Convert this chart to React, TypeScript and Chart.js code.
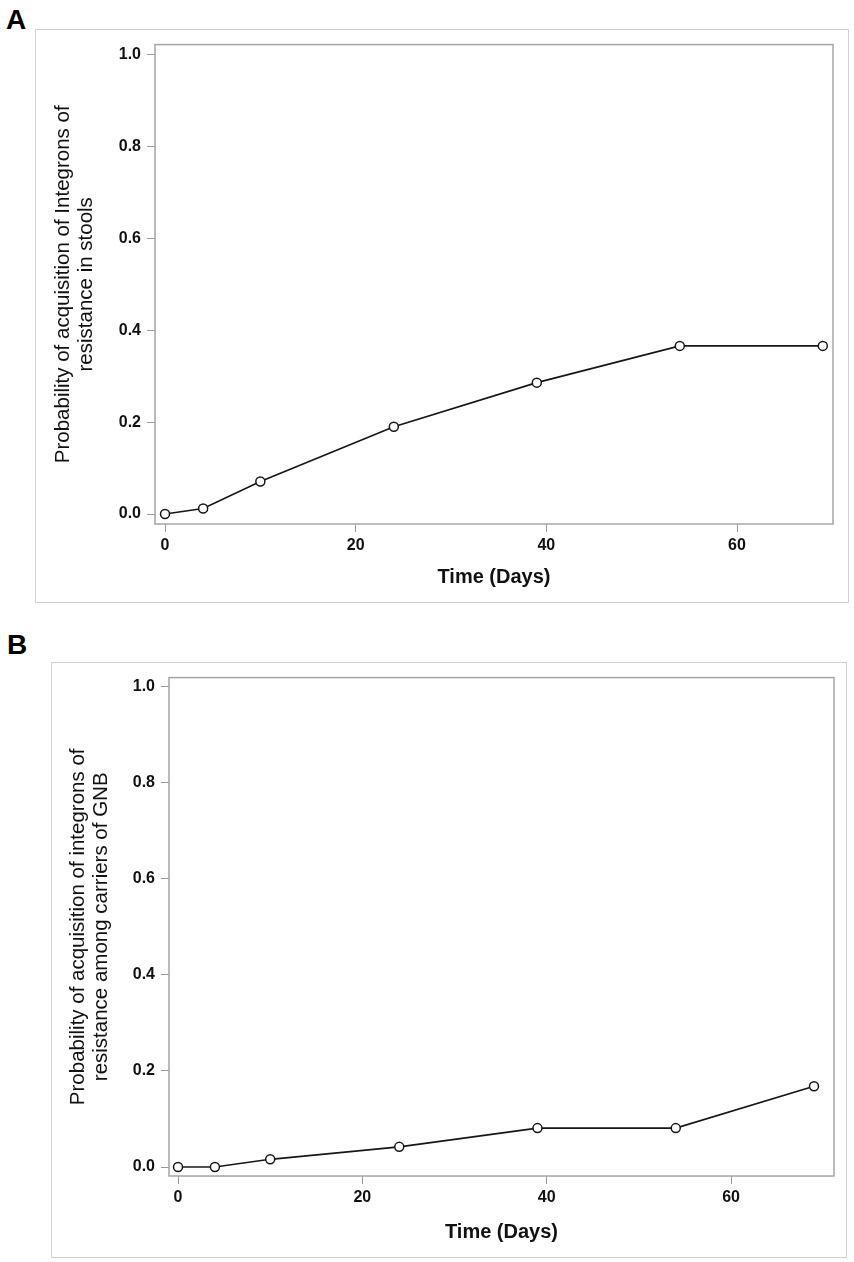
import { useEffect, useRef } from 'react';
import { Chart, registerables } from 'chart.js';

Chart.register(...registerables);

// data
const days = [0, 4, 10, 24, 39, 54, 69];
const probStools = [0, 0.012, 0.071, 0.19, 0.286, 0.366, 0.366];
const probCarriers = [0, 0, 0.016, 0.042, 0.081, 0.081, 0.168];
const xTicks = [0, 20, 40, 60];
const yTicks = [0, 0.2, 0.4, 0.6, 0.8, 1.0];
const yTitleStools = ['Probability of acquisition of Integrons of', 'resistance in stools'];
const yTitleCarriers = ['Probability of acquisition of integrons of', 'resistance among carriers of GNB'];
const xTitle = 'Time (Days)';

const FONT = '"Liberation Sans", Arial, sans-serif';

// plot-area frame
const framePlugin = {
  id: 'frame',
  beforeDatasetsDraw(chart: any) {
    const { ctx, chartArea: a } = chart;
    ctx.save();
    ctx.strokeStyle = '#a4a4a4';
    ctx.lineWidth = 1.5;
    ctx.strokeRect(a.left, a.top, a.right - a.left, a.bottom - a.top);
    ctx.restore();
  },
};

interface PanelProps {
  label: string;
  values: number[];
  yTitle: string[];
  box: { left: number; top: number; width: number; height: number };
  labelPos: { left: number; top: number };
  padTop: number;
  padRight: number;
  yAxisW: number;
  xAxisH: number;
  yTitlePad: number;
  xRange: [number, number];
  yRange: [number, number];
}

function Panel(p: PanelProps) {
  const chartRef = useRef<HTMLCanvasElement>(null);
  const chartInstanceRef = useRef<Chart | null>(null);

  useEffect(() => {
    if (!chartRef.current) return;
    const ctx = chartRef.current.getContext('2d');
    if (!ctx) return;

    if (chartInstanceRef.current) {
      chartInstanceRef.current.destroy();
    }

    chartInstanceRef.current = new Chart(ctx, {
      type: 'line',
      data: {
        datasets: [{
          data: days.map((d, i) => ({ x: d, y: p.values[i] })),
          borderColor: '#161616',
          borderWidth: 1.6,
          pointRadius: 4.5,
          pointBorderWidth: 1.5,
          pointBorderColor: '#161616',
          pointBackgroundColor: '#fff',
          tension: 0,
          fill: false,
        }],
      },
      options: {
        responsive: false,
        animation: false,
        layout: { padding: { left: 0, top: p.padTop, right: p.padRight, bottom: 0 } },
        plugins: {
          legend: { display: false },
          tooltip: { enabled: false },
        },
        scales: {
          x: {
            type: 'linear',
            min: p.xRange[0],
            max: p.xRange[1],
            afterBuildTicks: (s: any) => { s.ticks = xTicks.map(v => ({ value: v })); },
            afterFit: (s: any) => { s.height = p.xAxisH; },
            grid: { drawOnChartArea: false, drawTicks: true, tickLength: 8, tickColor: '#999', lineWidth: 1 },
            border: { display: false },
            ticks: {
              color: '#111',
              padding: 4,
              maxRotation: 0,
              autoSkip: false,
              font: { family: FONT, size: 16, weight: 'bold' },
              callback: (v: any) => String(v),
            },
            title: {
              display: true,
              text: xTitle,
              color: '#111',
              font: { family: FONT, size: 20, weight: 'bold' },
              padding: { top: 0, bottom: 14 },
            },
          },
          y: {
            type: 'linear',
            min: p.yRange[0],
            max: p.yRange[1],
            afterBuildTicks: (s: any) => { s.ticks = yTicks.map(v => ({ value: v })); },
            afterFit: (s: any) => { s.width = p.yAxisW; },
            grid: { drawOnChartArea: false, drawTicks: true, tickLength: 8, tickColor: '#999', lineWidth: 1 },
            border: { display: false },
            ticks: {
              color: '#111',
              padding: 6,
              autoSkip: false,
              font: { family: FONT, size: 16, weight: 'bold' },
              callback: (v: any) => Number(v).toFixed(1),
            },
            title: {
              display: true,
              text: p.yTitle,
              color: '#111',
              font: { family: FONT, size: 20.5, lineHeight: 1.12 },
              padding: { top: p.yTitlePad, bottom: 0 },
            },
          },
        },
      },
      plugins: [framePlugin],
    } as any);

    return () => {
      if (chartInstanceRef.current) {
        chartInstanceRef.current.destroy();
        chartInstanceRef.current = null;
      }
    };
  }, []);

  return (
    <>
      <div style={{
        position: 'absolute', left: p.labelPos.left, top: p.labelPos.top,
        fontFamily: FONT, fontWeight: 'bold', fontSize: 28, lineHeight: 1, color: '#000',
      }}>{p.label}</div>
      <div style={{
        position: 'absolute', left: p.box.left, top: p.box.top, width: p.box.width, height: p.box.height,
      }}>
        <div style={{
          position: 'absolute', left: 0, top: 0, width: p.box.width, height: p.box.height,
          border: '1.5px solid #d0d0d0', boxSizing: 'border-box',
        }} />
        <canvas
          ref={chartRef}
          width={p.box.width}
          height={p.box.height}
          style={{ position: 'absolute', left: 0, top: 0, width: p.box.width, height: p.box.height }}
        />
      </div>
    </>
  );
}

export default function App() {
  return (
    <div style={{ position: 'absolute', left: 0, top: 0, width: 854, height: 1262, background: '#fff' }}>
      <Panel
        label="A"
        values={probStools}
        yTitle={yTitleStools}
        box={{ left: 35, top: 29, width: 814, height: 574 }}
        labelPos={{ left: 6, top: 6 }}
        padTop={13}
        padRight={16}
        yAxisW={120}
        xAxisH={79}
        yTitlePad={17}
        xRange={[-1.05, 70.07]}
        yRange={[-0.0216, 1.0216]}
      />
      <Panel
        label="B"
        values={probCarriers}
        yTitle={yTitleCarriers}
        box={{ left: 51, top: 662, width: 796, height: 596 }}
        labelPos={{ left: 7, top: 631 }}
        padTop={14}
        padRight={13}
        yAxisW={118}
        xAxisH={82}
        yTitlePad={16}
        xRange={[-0.98, 71.17]}
        yRange={[-0.0187, 1.0187]}
      />
    </div>
  );
}
